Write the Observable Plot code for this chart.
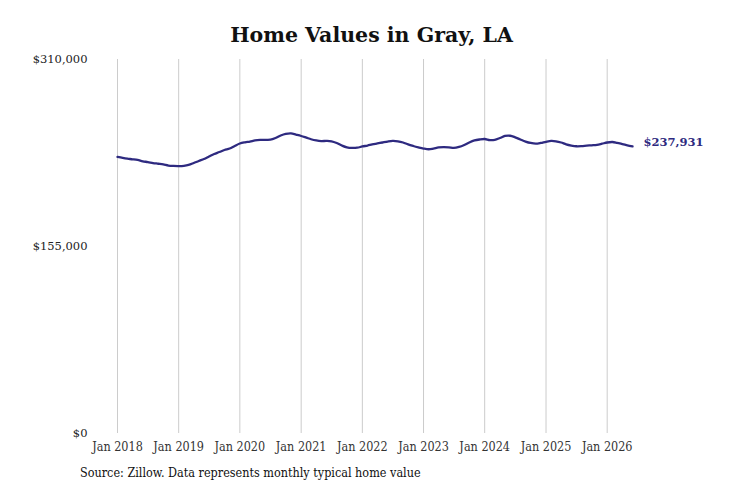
<!DOCTYPE html>
<html>
<head>
<meta charset="utf-8">
<script src="https://cdn.jsdelivr.net/npm/d3@7"></script>
<script src="https://cdn.jsdelivr.net/npm/@observablehq/plot@0.6"></script>
<style>
  body { margin: 0; background: #fff; width: 731px; }
  #title { height: 50px; line-height: 20px; padding-top: 25px; text-align: center; font-family: "DejaVu Serif", serif; font-weight: bold; font-size: 20.5px; color: #111; box-sizing: border-box; padding-left: 12px; }
  #caption { font-family: "DejaVu Serif Condensed", "DejaVu Serif", serif; font-stretch: condensed; font-size: 12.5px; color: #111; padding-left: 80px; margin-top: 2px; }
  .xax text { font-stretch: condensed; }
</style>
</head>
<body>
<div id="title">Home Values in Gray, LA</div>
<div id="chart"></div>
<div id="caption">Source: Zillow. Data represents monthly typical home value</div>
<script>
const startMonth = "2018-01";
const values = [
  229200, 228400, 227800, 227300, 226700, 225600, 225000, 224200, 223600, 223000, 222100, 221800,
  221700, 221900, 222600, 224200, 225900, 227500, 229600, 231700, 233300, 235000, 236200, 238300,
  240400, 241400, 242000, 242900, 243300, 243400, 243500, 244900, 247000, 248300, 248700, 247700,
  246600, 245200, 243900, 242900, 242400, 242500, 242200, 240800, 238700, 237200, 236700, 236900,
  237900, 238700, 239600, 240400, 241200, 242000, 242500, 242200, 241200, 239600, 238300, 237200,
  236200, 235600, 236200, 237100, 237400, 237200, 236700, 237500, 239100, 241200, 242900, 243700,
  244100, 243200, 243400, 244900, 246600, 246800, 245500, 243700, 242000, 240800, 240200, 240800,
  241800, 242500, 242200, 241200, 239700, 238700, 238100, 238200, 238600, 238900, 239300, 240200,
  241200, 241600, 240900, 239900, 238900, 237931
];
const yTicks = [0, 155000, 310000];
const xTickYears = [2018, 2019, 2020, 2021, 2022, 2023, 2024, 2025, 2026];
const lastLabel = "$237,931";

const start = d3.utcParse("%Y-%m")(startMonth);
const data = values.map((v, i) => ({date: d3.utcMonth.offset(start, i), value: v}));
const xTicks = xTickYears.map(y => new Date(Date.UTC(y, 0, 1)));
const lineColor = "#2e2a80";
const serif = "'DejaVu Serif', serif";
const condSerif = "'DejaVu Serif Condensed', 'DejaVu Serif', serif";

const chart = Plot.plot({
  width: 731,
  height: 413,
  marginTop: 9,
  marginBottom: 30,
  marginLeft: 117,
  marginRight: 99,
  style: {fontFamily: serif, color: "#333", background: "#fff"},
  x: {type: "utc", domain: [data[0].date, data[data.length - 1].date]},
  y: {domain: [0, 310000]},
  marks: [
    Plot.gridX(xTicks, {stroke: "#cccccc", strokeOpacity: 1, strokeWidth: 1}),
    Plot.axisY({ticks: yTicks, tickSize: 0, tickPadding: 30, fontSize: 11.5, fontFamily: serif, fill: "#222",
      tickFormat: d => "$" + d3.format(",")(d), label: null}),
    Plot.axisX({ticks: xTicks, tickSize: 0, tickPadding: 9, fontSize: 12.5, fontFamily: condSerif, fill: "#333",
      className: "xax", tickFormat: d => "Jan " + d.getUTCFullYear(), label: null}),
    Plot.line(data, {x: "date", y: "value", stroke: lineColor, strokeWidth: 2.3, curve: "catmull-rom"}),
    Plot.text([data[data.length - 1]], {x: "date", y: "value", text: () => lastLabel, dx: 11, dy: -4,
      textAnchor: "start", fill: lineColor, fontWeight: "bold", fontSize: 11.5, fontFamily: serif})
  ]
});
document.getElementById("chart").appendChild(chart);
</script>
</body>
</html>
